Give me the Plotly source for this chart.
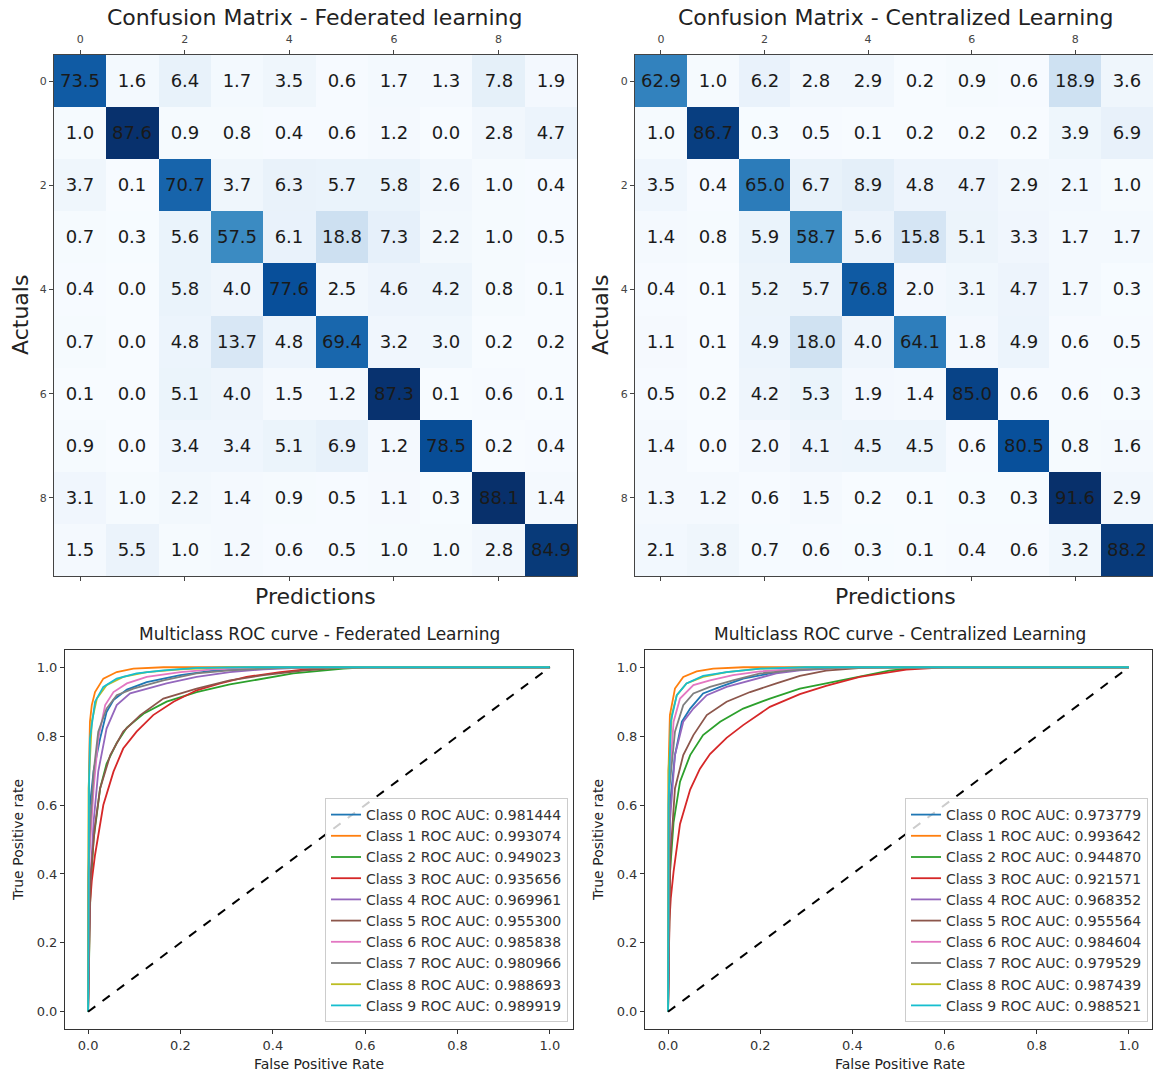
import plotly.graph_objects as go
import numpy as np

W, H = 1153, 1075
FONT = "DejaVu Sans"

# ---------------- data ----------------
classes = list(range(10))
tick_vals_cm = [0, 2, 4, 6, 8]

cm_federated = [
    [73.5, 1.6, 6.4, 1.7, 3.5, 0.6, 1.7, 1.3, 7.8, 1.9],
    [1.0, 87.6, 0.9, 0.8, 0.4, 0.6, 1.2, 0.0, 2.8, 4.7],
    [3.7, 0.1, 70.7, 3.7, 6.3, 5.7, 5.8, 2.6, 1.0, 0.4],
    [0.7, 0.3, 5.6, 57.5, 6.1, 18.8, 7.3, 2.2, 1.0, 0.5],
    [0.4, 0.0, 5.8, 4.0, 77.6, 2.5, 4.6, 4.2, 0.8, 0.1],
    [0.7, 0.0, 4.8, 13.7, 4.8, 69.4, 3.2, 3.0, 0.2, 0.2],
    [0.1, 0.0, 5.1, 4.0, 1.5, 1.2, 87.3, 0.1, 0.6, 0.1],
    [0.9, 0.0, 3.4, 3.4, 5.1, 6.9, 1.2, 78.5, 0.2, 0.4],
    [3.1, 1.0, 2.2, 1.4, 0.9, 0.5, 1.1, 0.3, 88.1, 1.4],
    [1.5, 5.5, 1.0, 1.2, 0.6, 0.5, 1.0, 1.0, 2.8, 84.9],
]

cm_centralized = [
    [62.9, 1.0, 6.2, 2.8, 2.9, 0.2, 0.9, 0.6, 18.9, 3.6],
    [1.0, 86.7, 0.3, 0.5, 0.1, 0.2, 0.2, 0.2, 3.9, 6.9],
    [3.5, 0.4, 65.0, 6.7, 8.9, 4.8, 4.7, 2.9, 2.1, 1.0],
    [1.4, 0.8, 5.9, 58.7, 5.6, 15.8, 5.1, 3.3, 1.7, 1.7],
    [0.4, 0.1, 5.2, 5.7, 76.8, 2.0, 3.1, 4.7, 1.7, 0.3],
    [1.1, 0.1, 4.9, 18.0, 4.0, 64.1, 1.8, 4.9, 0.6, 0.5],
    [0.5, 0.2, 4.2, 5.3, 1.9, 1.4, 85.0, 0.6, 0.6, 0.3],
    [1.4, 0.0, 2.0, 4.1, 4.5, 4.5, 0.6, 80.5, 0.8, 1.6],
    [1.3, 1.2, 0.6, 1.5, 0.2, 0.1, 0.3, 0.3, 91.6, 2.9],
    [2.1, 3.8, 0.7, 0.6, 0.3, 0.1, 0.4, 0.6, 3.2, 88.2],
]

auc_federated = [0.981444, 0.993074, 0.949023, 0.935656, 0.969961,
                 0.955300, 0.985838, 0.980966, 0.988693, 0.989919]
auc_centralized = [0.973779, 0.993642, 0.944870, 0.921571, 0.968352,
                   0.955564, 0.984604, 0.979529, 0.987439, 0.988521]

# ROC curves (fpr, tpr) per class
fed_fpr = [
    [0, 0.001, 0.004, 0.012, 0.026, 0.040, 0.055, 0.084, 0.127, 0.20, 0.27, 0.40, 0.55, 1.0],
    [0, 0.001, 0.002, 0.004, 0.008, 0.015, 0.033, 0.062, 0.098, 0.163, 1.0],
    [0, 0.002, 0.005, 0.012, 0.026, 0.040, 0.062, 0.084, 0.12, 0.17, 0.235, 0.307, 0.38, 0.444, 0.553, 0.60, 1.0],
    [0, 0.002, 0.004, 0.008, 0.015, 0.033, 0.055, 0.076, 0.105, 0.141, 0.185, 0.235, 0.286, 0.343, 0.416, 0.48, 0.55, 1.0],
    [0, 0.002, 0.004, 0.012, 0.022, 0.040, 0.062, 0.091, 0.127, 0.17, 0.235, 0.307, 0.38, 0.48, 1.0],
    [0, 0.002, 0.006, 0.014, 0.026, 0.048, 0.076, 0.113, 0.163, 0.235, 0.307, 0.38, 0.48, 0.56, 1.0],
    [0, 0.001, 0.003, 0.012, 0.022, 0.037, 0.055, 0.084, 0.127, 0.20, 0.27, 0.40, 1.0],
    [0, 0.001, 0.003, 0.012, 0.022, 0.040, 0.062, 0.098, 0.163, 0.235, 0.307, 0.45, 1.0],
    [0, 0.0005, 0.001, 0.008, 0.019, 0.040, 0.076, 0.127, 0.20, 0.30, 1.0],
    [0, 0.001, 0.002, 0.004, 0.015, 0.033, 0.062, 0.105, 0.163, 0.235, 0.35, 1.0],
]
fed_tpr = [
    [0, 0.40, 0.60, 0.70, 0.793, 0.87, 0.905, 0.935, 0.957, 0.977, 0.99, 0.998, 1.0, 1.0],
    [0, 0.55, 0.70, 0.842, 0.89, 0.928, 0.967, 0.986, 0.996, 1.0, 1.0],
    [0, 0.20, 0.35, 0.50, 0.648, 0.72, 0.78, 0.825, 0.865, 0.90, 0.928, 0.95, 0.967, 0.982, 0.996, 1.0, 1.0],
    [0, 0.15, 0.31, 0.38, 0.455, 0.60, 0.697, 0.764, 0.813, 0.861, 0.90, 0.933, 0.953, 0.972, 0.986, 0.995, 1.0, 1.0],
    [0, 0.25, 0.358, 0.552, 0.697, 0.822, 0.89, 0.924, 0.938, 0.953, 0.972, 0.986, 0.994, 1.0, 1.0],
    [0, 0.22, 0.40, 0.53, 0.648, 0.745, 0.813, 0.861, 0.909, 0.938, 0.962, 0.977, 0.992, 1.0, 1.0],
    [0, 0.35, 0.455, 0.648, 0.793, 0.89, 0.928, 0.953, 0.972, 0.986, 0.994, 1.0, 1.0],
    [0, 0.38, 0.503, 0.697, 0.813, 0.88, 0.919, 0.938, 0.962, 0.982, 0.991, 1.0, 1.0],
    [0, 0.50, 0.648, 0.842, 0.909, 0.948, 0.972, 0.986, 0.994, 1.0, 1.0],
    [0, 0.55, 0.65, 0.793, 0.90, 0.943, 0.967, 0.982, 0.991, 0.998, 1.0, 1.0],
]

cen_fpr = [
    [0, 0.002, 0.004, 0.015, 0.030, 0.048, 0.076, 0.113, 0.163, 0.221, 0.286, 0.38, 0.48, 1.0],
    [0, 0.0005, 0.001, 0.004, 0.015, 0.033, 0.062, 0.098, 0.163, 1.0],
    [0, 0.002, 0.004, 0.012, 0.026, 0.048, 0.076, 0.113, 0.163, 0.221, 0.286, 0.343, 0.416, 0.48, 0.55, 1.0],
    [0, 0.002, 0.003, 0.006, 0.012, 0.026, 0.048, 0.069, 0.091, 0.127, 0.163, 0.221, 0.286, 0.343, 0.416, 0.517, 0.60, 1.0],
    [0, 0.002, 0.004, 0.015, 0.033, 0.055, 0.084, 0.127, 0.178, 0.235, 0.286, 0.38, 0.46, 1.0],
    [0, 0.002, 0.005, 0.015, 0.033, 0.055, 0.084, 0.127, 0.178, 0.235, 0.286, 0.343, 0.42, 0.50, 1.0],
    [0, 0.001, 0.002, 0.012, 0.026, 0.055, 0.091, 0.141, 0.20, 0.30, 0.40, 1.0],
    [0, 0.001, 0.003, 0.015, 0.033, 0.055, 0.091, 0.141, 0.20, 0.27, 0.38, 1.0],
    [0, 0.0005, 0.001, 0.008, 0.019, 0.040, 0.076, 0.127, 0.20, 0.30, 1.0],
    [0, 0.0005, 0.001, 0.006, 0.019, 0.040, 0.076, 0.127, 0.20, 0.30, 1.0],
]
cen_tpr = [
    [0, 0.35, 0.60, 0.745, 0.842, 0.88, 0.924, 0.943, 0.967, 0.982, 0.994, 0.999, 1.0, 1.0],
    [0, 0.50, 0.70, 0.861, 0.938, 0.972, 0.988, 0.996, 1.0, 1.0],
    [0, 0.25, 0.40, 0.55, 0.668, 0.745, 0.803, 0.842, 0.88, 0.909, 0.938, 0.953, 0.972, 0.99, 1.0, 1.0],
    [0, 0.12, 0.262, 0.33, 0.407, 0.545, 0.645, 0.705, 0.748, 0.795, 0.832, 0.885, 0.922, 0.946, 0.972, 0.993, 1.0, 1.0],
    [0, 0.30, 0.55, 0.745, 0.842, 0.88, 0.919, 0.943, 0.962, 0.982, 0.991, 0.998, 1.0, 1.0],
    [0, 0.25, 0.45, 0.648, 0.745, 0.803, 0.861, 0.90, 0.928, 0.953, 0.975, 0.99, 0.998, 1.0, 1.0],
    [0, 0.40, 0.65, 0.842, 0.909, 0.948, 0.962, 0.977, 0.988, 0.997, 1.0, 1.0],
    [0, 0.40, 0.65, 0.813, 0.89, 0.924, 0.943, 0.962, 0.982, 0.991, 1.0, 1.0],
    [0, 0.50, 0.70, 0.861, 0.919, 0.953, 0.972, 0.986, 0.996, 1.0, 1.0],
    [0, 0.45, 0.60, 0.842, 0.919, 0.953, 0.975, 0.986, 0.996, 1.0, 1.0],
]

roc_ticks = [0.0, 0.2, 0.4, 0.6, 0.8, 1.0]

# ---------------- styles ----------------
tab10 = ["#1f77b4", "#ff7f0e", "#2ca02c", "#d62728", "#9467bd",
         "#8c564b", "#e377c2", "#7f7f7f", "#bcbd22", "#17becf"]
blues_anchor = ["#f7fbff", "#deebf7", "#c6dbef", "#9ecae1", "#6baed6",
                "#4292c6", "#2171b5", "#08519c", "#08306b"]
BLUES = [[i / (len(blues_anchor) - 1), c] for i, c in enumerate(blues_anchor)]


def px_x(p):
    return p / W


def px_y(p):
    return 1 - p / H


fig = go.Figure()

# ---------------- confusion matrices ----------------
for cm, xa, ya in [(cm_federated, "x", "y"), (cm_centralized, "x2", "y2")]:
    arr = np.array(cm)
    fig.add_trace(go.Heatmap(
        z=cm, x=classes, y=classes, colorscale=BLUES,
        zmin=float(arr.min()), zmax=float(arr.max()), showscale=False,
        texttemplate="%{z:.1f}", textfont=dict(size=18, color="#1a1a1a", family=FONT),
        xaxis=xa, yaxis=ya, hoverinfo="skip", xgap=0, ygap=0,
    ))

# ---------------- ROC curves ----------------
for fprs, tprs, aucs, xa, ya, lg in [
    (fed_fpr, fed_tpr, auc_federated, "x3", "y3", "legend"),
    (cen_fpr, cen_tpr, auc_centralized, "x4", "y4", "legend2"),
]:
    for i in classes:
        fig.add_trace(go.Scatter(
            x=fprs[i], y=tprs[i], mode="lines",
            line=dict(color=tab10[i], width=1.8),
            name=f"Class {i} ROC AUC: {aucs[i]:.6f}",
            xaxis=xa, yaxis=ya, legend=lg,
        ))
    fig.add_trace(go.Scatter(
        x=[0, 1], y=[0, 1], mode="lines",
        line=dict(color="black", width=2, dash="dash"),
        showlegend=False, xaxis=xa, yaxis=ya,
    ))

# ---------------- axes ----------------
cm_x_common = dict(
    range=[-0.5, 9.5], tickvals=tick_vals_cm, side="top", ticks="outside",
    ticklen=4, tickcolor="#444", showline=True, linecolor="#444", linewidth=1,
    mirror="ticks", showgrid=False, zeroline=False, ticklabelstandoff=3,
    tickfont=dict(size=11, color="#444", family=FONT),
)
cm_y_common = dict(
    range=[9.5, -0.5], tickvals=tick_vals_cm, ticks="outside",
    ticklen=4, tickcolor="#444", showline=True, linecolor="#444", linewidth=1,
    mirror=True, showgrid=False, zeroline=False,
    tickfont=dict(size=11, color="#444", family=FONT),
)
roc_x_common = dict(
    range=[-0.05, 1.05], tickvals=roc_ticks, tickformat=".1f", ticks="outside",
    ticklen=4, tickcolor="#333", showline=True, linecolor="#333", linewidth=1,
    mirror=True, showgrid=False, zeroline=False,
    tickfont=dict(size=13, color="#333", family=FONT),
)
roc_y_common = dict(roc_x_common)

fig.update_layout(
    width=W, height=H,
    margin=dict(l=0, r=0, t=0, b=0),
    paper_bgcolor="white", plot_bgcolor="white",
    font=dict(family=FONT, color="#222"),
    xaxis=dict(cm_x_common, domain=[px_x(54), px_x(577)], anchor="y"),
    yaxis=dict(cm_y_common, domain=[px_y(576), px_y(55)], anchor="x"),
    xaxis2=dict(cm_x_common, domain=[px_x(635), px_x(1153)], anchor="y2"),
    yaxis2=dict(cm_y_common, domain=[px_y(576), px_y(55)], anchor="x2"),
    xaxis3=dict(roc_x_common, domain=[px_x(65), px_x(573)], anchor="y3"),
    yaxis3=dict(roc_y_common, domain=[px_y(1029), px_y(650)], anchor="x3"),
    xaxis4=dict(roc_x_common, domain=[px_x(645), px_x(1152)], anchor="y4"),
    yaxis4=dict(roc_y_common, domain=[px_y(1029), px_y(650)], anchor="x4"),
    legend=dict(
        x=px_x(568), y=px_y(1022), xanchor="right", yanchor="bottom",
        bgcolor="rgba(255,255,255,0.8)", bordercolor="#cccccc", borderwidth=1,
        font=dict(size=14, color="#333", family=FONT), itemwidth=30,
    ),
    legend2=dict(
        x=px_x(1148), y=px_y(1022), xanchor="right", yanchor="bottom",
        bgcolor="rgba(255,255,255,0.8)", bordercolor="#cccccc", borderwidth=1,
        font=dict(size=14, color="#333", family=FONT), itemwidth=30,
    ),
)

# ---------------- titles & labels ----------------
texts = [
    ("Confusion Matrix - Federated learning", 315, 18, 22, 0),
    ("Confusion Matrix - Centralized Learning", 895, 18, 22, 0),
    ("Predictions", 315, 596, 22, 0),
    ("Predictions", 895, 596, 22, 0),
    ("Actuals", 20, 315, 22, -90),
    ("Actuals", 600, 315, 22, -90),
    ("Multiclass ROC curve - Federated Learning", 319, 634, 17, 0),
    ("Multiclass ROC curve - Centralized Learning", 900, 634, 17, 0),
    ("False Positive Rate", 319, 1064, 14, 0),
    ("False Positive Rate", 900, 1064, 14, 0),
    ("True Positive rate", 18, 840, 14, -90),
    ("True Positive rate", 598, 840, 14, -90),
]
for t, x, y, s, ang in texts:
    fig.add_annotation(
        text=t, x=px_x(x), y=px_y(y), xref="paper", yref="paper",
        xanchor="center", yanchor="middle", showarrow=False, textangle=ang,
        font=dict(size=s, color="#222", family=FONT),
    )

fig.write_html(
    "out.html",
    config={"displayModeBar": False},
    post_script="document.body.style.margin='0';document.body.style.overflow='hidden';",
)
